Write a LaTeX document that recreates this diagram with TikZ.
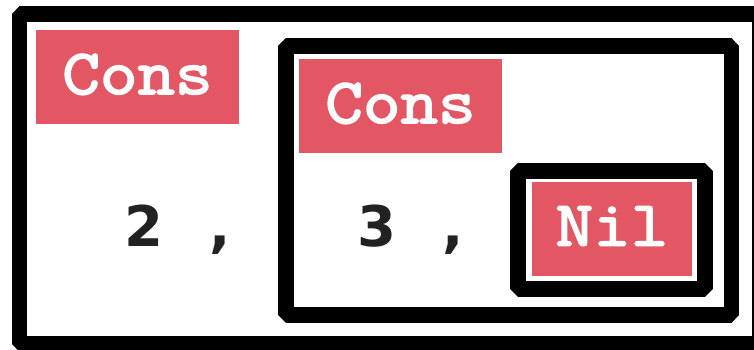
\documentclass[tikz,border=0pt]{standalone}
\usepackage{fontspec}
\setmainfont{DejaVu Sans}
\newfontfamily\consfont{Latin Modern Mono}[FakeBold=2.8, FakeStretch=1.14]
\definecolor{tagred}{RGB}{226,87,99}
\definecolor{inkgray}{RGB}{34,34,34}
\begin{document}
\begin{tikzpicture}[x=1pt,y=-1pt,
  frame/.style={draw=black, line width=15.5pt, line join=bevel, rectangle, inner sep=0pt, outer sep=0pt},
  tag/.style={fill=tagred, text=white, inner sep=0pt, outer sep=0pt, text depth=6pt, font=\consfont\fontsize{64}{64}\selectfont},
  val/.style={text=inkgray, inner sep=0pt, anchor=base west, font=\bfseries\fontsize{56}{60}\selectfont}]
\useasboundingbox (0,0) rectangle (754,349);
\fill[white] (0,0) rectangle (754,349);
\clip (0,0) rectangle (754,349);
% frames
\node[frame, minimum width=740pt, minimum height=329.75pt] (outer) at (389.5,178.875) {};
\node[frame, minimum width=445.5pt, minimum height=269pt] (middle) at (508.75,180.5) {};
\node[frame, minimum width=187pt, minimum height=118pt] (nilbox) at (611.5,230) {};
% tags
\node[tag, minimum width=203pt, minimum height=94pt] (cons1) at (137.5,77) {Cons};
\node[tag, minimum width=203pt, minimum height=94pt] (cons2) at (400.5,106) {Cons};
\node[tag, minimum width=160pt, minimum height=94pt] (nil) at (612,229) {Nil};
% values
\node[val] (v2) at (124,246) {2\hspace{46.5pt},};
\node[val] (v3) at (357,246) {3\hspace{46.5pt},};
\end{tikzpicture}
\end{document}
